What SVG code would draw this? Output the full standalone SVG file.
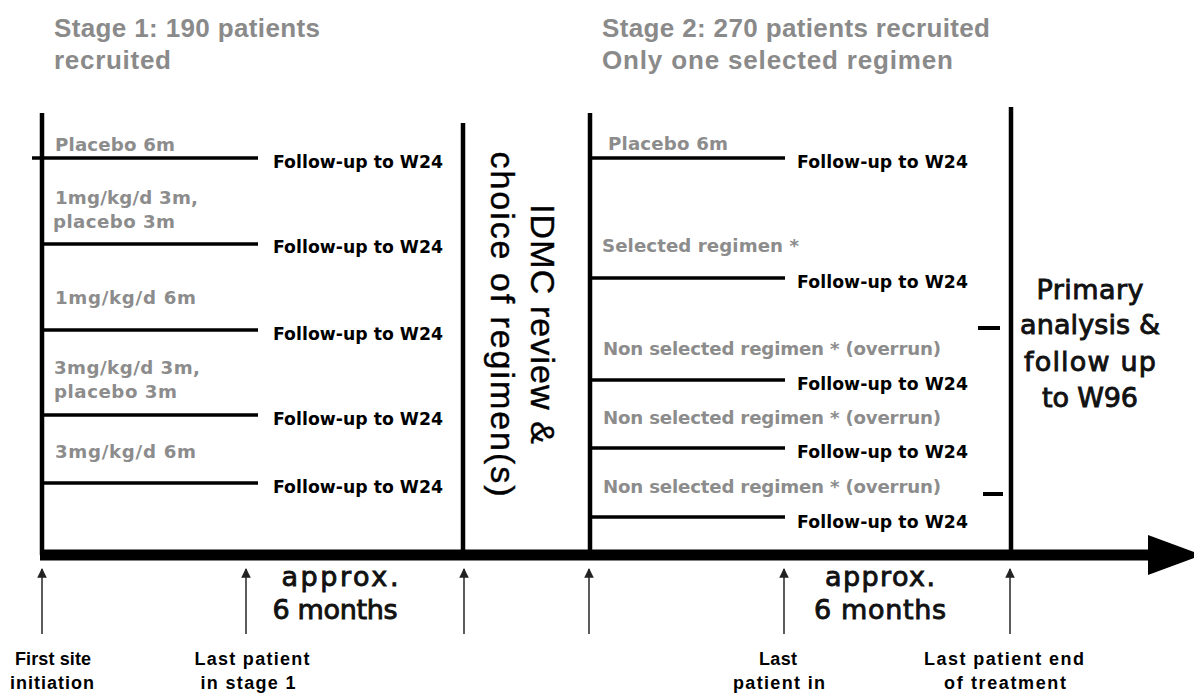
<svg xmlns="http://www.w3.org/2000/svg" width="1194" height="694" viewBox="0 0 1194 694">
<defs>
<style>
.hdr{font-family:"Liberation Sans",Arial,sans-serif;font-weight:bold;font-size:26px;fill:#8a8a8a}
.grey{font-family:"DejaVu Sans",sans-serif;font-weight:bold;font-size:18.2px;fill:#8c8c8c}
.fu{font-family:"DejaVu Sans",sans-serif;font-weight:bold;font-size:17.3px;fill:#000}
.big{font-family:"DejaVu Sans",sans-serif;font-size:27px;fill:#111;stroke:#111;stroke-width:0.9;text-anchor:middle}
.idmc{font-family:"Liberation Sans",Arial,sans-serif;font-size:34px;fill:#000;stroke:#000;stroke-width:0.4;text-anchor:middle}
.ms{font-family:"Liberation Sans",Arial,sans-serif;font-weight:bold;font-size:18px;fill:#000;text-anchor:middle}
.arm{stroke:#000;stroke-width:3.5;fill:none}
.bar{stroke:#000;stroke-width:4.5;fill:none}
.tick{stroke:#000;stroke-width:4;fill:none}
.up{stroke:#333;stroke-width:1.6;fill:none;marker-end:url(#ah)}
</style>
<marker id="ah" viewBox="0 0 10 10" refX="9" refY="5" markerWidth="6" markerHeight="6" orient="auto" markerUnits="strokeWidth">
<path d="M0,0 L10,5 L0,10 z" fill="#222"/>
</marker>
</defs>
<rect width="1194" height="694" fill="#fff"/>

<g id="headers">
<text class="hdr" x="54" y="37" textLength="266">Stage 1: 190 patients</text>
<text class="hdr" x="54" y="69" textLength="117">recruited</text>
<text class="hdr" x="602" y="37" textLength="388">Stage 2: 270 patients recruited</text>
<text class="hdr" x="602" y="69" textLength="351">Only one selected regimen</text>
</g>

<g id="connectors">
<!-- timeline axis -->
<line x1="40" y1="555" x2="1152" y2="555" stroke="#000" stroke-width="11"/>
<polygon points="1148,535 1202,555 1148,575" fill="#000"/>
<!-- vertical bars -->
<line class="bar" x1="42" y1="113" x2="42" y2="555"/>
<line class="bar" x1="463" y1="123" x2="463" y2="552"/>
<line class="bar" x1="590" y1="113" x2="590" y2="552"/>
<line class="bar" x1="1011" y1="107" x2="1011" y2="552"/>
<!-- stage 1 arms -->
<line class="arm" x1="32" y1="158" x2="258" y2="158"/>
<line class="arm" x1="42" y1="244" x2="258" y2="244"/>
<line class="arm" x1="42" y1="330" x2="258" y2="330"/>
<line class="arm" x1="42" y1="415" x2="258" y2="415"/>
<line class="arm" x1="42" y1="483" x2="258" y2="483"/>
<!-- stage 2 arms -->
<line class="arm" x1="590" y1="158" x2="785" y2="158"/>
<line class="arm" x1="590" y1="278" x2="785" y2="278"/>
<line class="arm" x1="590" y1="380" x2="785" y2="380"/>
<line class="arm" x1="590" y1="448" x2="785" y2="448"/>
<line class="arm" x1="590" y1="517" x2="785" y2="517"/>
<!-- small dashes -->
<line class="tick" x1="978" y1="328" x2="1000" y2="328"/>
<line class="tick" x1="983" y1="494" x2="1003" y2="494"/>
<!-- milestone arrows -->
<line class="up" x1="42" y1="634" x2="42" y2="569"/>
<line class="up" x1="246" y1="634" x2="246" y2="569"/>
<line class="up" x1="464" y1="634" x2="464" y2="569"/>
<line class="up" x1="589" y1="634" x2="589" y2="569"/>
<line class="up" x1="784" y1="634" x2="784" y2="569"/>
<line class="up" x1="1010" y1="634" x2="1010" y2="569"/>
</g>

<g id="stage1-arms">
<text class="grey" x="55" y="151" textLength="120">Placebo 6m</text>
<text class="fu" x="273" y="168" textLength="170">Follow-up to W24</text>
<text class="grey" x="55" y="204" textLength="143">1mg/kg/d 3m,</text>
<text class="grey" x="53" y="228" textLength="122">placebo 3m</text>
<text class="fu" x="273" y="253" textLength="170">Follow-up to W24</text>
<text class="grey" x="55" y="304" textLength="141">1mg/kg/d 6m</text>
<text class="fu" x="273" y="340" textLength="170">Follow-up to W24</text>
<text class="grey" x="54" y="374" textLength="146">3mg/kg/d 3m,</text>
<text class="grey" x="54" y="398" textLength="123">placebo 3m</text>
<text class="fu" x="273" y="425" textLength="170">Follow-up to W24</text>
<text class="grey" x="55" y="458" textLength="141">3mg/kg/d 6m</text>
<text class="fu" x="273" y="493" textLength="170">Follow-up to W24</text>
</g>

<g id="idmc">
<text class="idmc" transform="translate(531,324) rotate(90)" textLength="240">IDMC review &amp;</text>
<text class="idmc" transform="translate(491,324) rotate(90)" textLength="345">choice of regimen(s)</text>
</g>

<g id="stage2-arms">
<text class="grey" x="608" y="150" textLength="120">Placebo 6m</text>
<text class="fu" x="797" y="168" textLength="171">Follow-up to W24</text>
<text class="grey" x="602" y="252" textLength="197">Selected regimen *</text>
<text class="fu" x="797" y="288" textLength="171">Follow-up to W24</text>
<text class="grey" x="603" y="355" textLength="338">Non selected regimen * (overrun)</text>
<text class="fu" x="797" y="390" textLength="171">Follow-up to W24</text>
<text class="grey" x="603" y="424" textLength="338">Non selected regimen * (overrun)</text>
<text class="fu" x="797" y="458" textLength="171">Follow-up to W24</text>
<text class="grey" x="603" y="493" textLength="338">Non selected regimen * (overrun)</text>
<text class="fu" x="797" y="528" textLength="171">Follow-up to W24</text>
</g>

<g id="primary">
<text class="big" x="1090" y="299" textLength="107">Primary</text>
<text class="big" x="1090" y="334" textLength="140">analysis &amp;</text>
<text class="big" x="1090" y="371" textLength="132">follow up</text>
<text class="big" x="1090" y="407" textLength="96">to W96</text>
</g>

<g id="durations">
<text class="big" x="340" y="586" textLength="117">approx.</text>
<text class="big" x="335" y="619" textLength="125">6 months</text>
<text class="big" x="880" y="586" textLength="110">approx.</text>
<text class="big" x="880" y="619" textLength="132">6 months</text>
</g>

<g id="milestones">
<text class="ms" x="53" y="665" textLength="76">First site</text>
<text class="ms" x="52" y="689" textLength="84">initiation</text>
<text class="ms" x="252" y="665" textLength="115">Last patient</text>
<text class="ms" x="248" y="689" textLength="95">in stage 1</text>
<text class="ms" x="778" y="665" textLength="38">Last</text>
<text class="ms" x="779" y="689" textLength="92">patient in</text>
<text class="ms" x="1004" y="665" textLength="160">Last patient end</text>
<text class="ms" x="1005" y="689" textLength="122">of treatment</text>
</g>
</svg>
